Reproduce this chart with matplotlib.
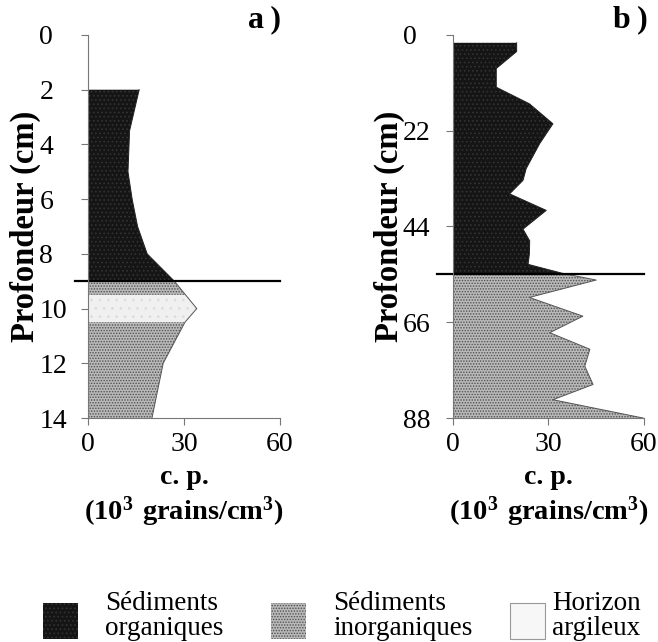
import numpy as np
import matplotlib.pyplot as plt
from matplotlib.patches import Rectangle

plt.rcParams['font.family'] = ['Liberation Serif', 'DejaVu Serif']
plt.rcParams['mathtext.fontset'] = 'custom'
plt.rcParams['mathtext.rm'] = 'Liberation Serif'
plt.rcParams['mathtext.bf'] = 'Liberation Serif:bold'
plt.rcParams['hatch.linewidth'] = 0.7

# panel a) depth (cm) and c.p. (10^3 grains/cm3)
a_org_depth = [2, 3.5, 5, 6, 7, 8, 9]
a_org_val = [16, 13, 12.5, 13.8, 15.5, 18.5, 27]
a_inorg_depth = [9, 9.5, 10, 10.5, 12, 14]
a_inorg_val = [27, 30.5, 34, 30.3, 23.5, 20]
a_horizon = (9.5, 10.5)
a_limit = 9
a_yticks = [0, 2, 4, 6, 8, 10, 12, 14]

# panel b)
b_org_depth = [1.8, 3.8, 7.7, 12, 15.8, 20.4, 25, 30.7, 33.4, 36.5, 40.3,
               44.6, 47.3, 50.3, 52.7, 54.8]
b_org_val = [20, 20, 13.6, 13.6, 24, 31.4, 27.2, 23, 22, 17.8, 29.3,
             22, 24.1, 24, 23.6, 34.6]
b_inorg_depth = [54.8, 56.3, 60.3, 64.6, 68.4, 72.2, 76.1, 80.3, 83.8, 88]
b_inorg_val = [34.6, 45, 24, 40.8, 30.4, 43, 41.4, 44, 31.4, 59.7]
b_limit = 54.8
b_yticks = [0, 22, 44, 66, 88]

xticks = [0, 30, 60]

legend_labels = ['Sédiments\norganiques', 'Sédiments\ninorganiques', 'Horizon\nargileux']

org_style = dict(facecolor='#151515', edgecolor='#333333', hatch='....', linewidth=0)
inorg_style = dict(facecolor='#b9b9b9', edgecolor='#505050', hatch='......', linewidth=0)
hor_style = dict(facecolor='#f0f0f0', edgecolor='#dcdcdc', hatch='..', linewidth=0)

fig = plt.figure(figsize=(6.58, 6.42), dpi=100)
ax1 = fig.add_axes([0.1337, 0.3489, 0.2918, 0.5966])
ax2 = fig.add_axes([0.6884, 0.3489, 0.2903, 0.5966])


def setup(ax, ymax, yticks, ypad, labx):
    ax.set_xlim(0, 60)
    ax.set_ylim(ymax, 0)
    ax.set_xticks(xticks)
    ax.set_yticks(yticks)
    for s in ['top', 'right']:
        ax.spines[s].set_visible(False)
    for s in ['left', 'bottom']:
        ax.spines[s].set_color('#777777')
        ax.spines[s].set_linewidth(0.8)
    ax.tick_params(labelsize=20, length=5, width=0.8, color='#777777')
    ax.tick_params(axis='y', pad=ypad)
    ax.tick_params(axis='x', pad=5)
    # tick labels of the depth axis are left-aligned in the original
    for t in ax.get_yticklabels():
        t.set_horizontalalignment('left')
    ax.set_ylabel('Profondeur (cm)', fontsize=23.5, fontweight='bold')
    ax.yaxis.set_label_coords(labx, 0.5)


# panel a
d = np.array(a_inorg_depth)
v = np.array(a_inorg_val)
ax1.fill_betweenx(a_org_depth, 0, a_org_val, **org_style)
m1 = d <= a_horizon[0]
m2 = (d >= a_horizon[0]) & (d <= a_horizon[1])
m3 = d >= a_horizon[1]
ax1.fill_betweenx(d[m1], 0, v[m1], **inorg_style)
ax1.fill_betweenx(d[m2], 0, v[m2], **hor_style)
ax1.fill_betweenx(d[m3], 0, v[m3], **inorg_style)
ax1.plot(a_org_val, a_org_depth, color='#222222', lw=0.7)
ax1.plot(a_inorg_val, a_inorg_depth, color='#555555', lw=0.7)
ax1.plot([-4, 60], [a_limit, a_limit], color='black', lw=1.6, clip_on=False)
setup(ax1, 14, a_yticks, 30, -0.245)

# panel b
ax2.fill_betweenx(b_org_depth, 0, b_org_val, **org_style)
ax2.fill_betweenx(b_inorg_depth, 0, b_inorg_val, **inorg_style)
ax2.plot(b_org_val, b_org_depth, color='#222222', lw=0.7)
ax2.plot(b_inorg_val, b_inorg_depth, color='#555555', lw=0.7)
ax2.plot([-5, 60], [b_limit, b_limit], color='black', lw=1.6, clip_on=False)
setup(ax2, 88, b_yticks, 31, -0.25)

# axis titles below the x axis
for ax in [ax1, ax2]:
    cx = ax.get_position().x0 + ax.get_position().width / 2
    fig.text(cx, 1 - 478 / 642, 'c. p.', ha='center', va='center',
             fontsize=20, fontweight='bold')
    fig.text(cx, 1 - 512 / 642, r'$\mathbf{(10^3\ grains/cm^3)}$', ha='center',
             va='center', fontsize=20.5)

fig.text(265 / 658, 1 - 20 / 642, 'a\u2009)', ha='center', va='center', fontsize=23,
         fontweight='bold')
fig.text(630 / 658, 1 - 20 / 642, 'b\u2009)', ha='center', va='center', fontsize=23,
         fontweight='bold')

# legend drawn by hand in figure pixels
swatches = [dict(facecolor='#151515', edgecolor='#333333', hatch='....', lw=0),
            dict(facecolor='#b9b9b9', edgecolor='#505050', hatch='......', lw=0),
            dict(facecolor='#f7f7f7', edgecolor='#999999', lw=0.8)]
box_x = [43, 271, 510]
text_x = [105, 333, 552]
for bx, tx, sty, lab in zip(box_x, text_x, swatches, legend_labels):
    fig.add_artist(Rectangle((bx / 658, 1 - 639 / 642), 35 / 658, 36 / 642,
                             transform=fig.transFigure, **sty))
    fig.text(tx / 658, 1 - 616 / 642, lab, ha='left', va='center', fontsize=19.5,
             linespacing=0.95, multialignment='left')

fig.savefig('out.png', dpi=100)
